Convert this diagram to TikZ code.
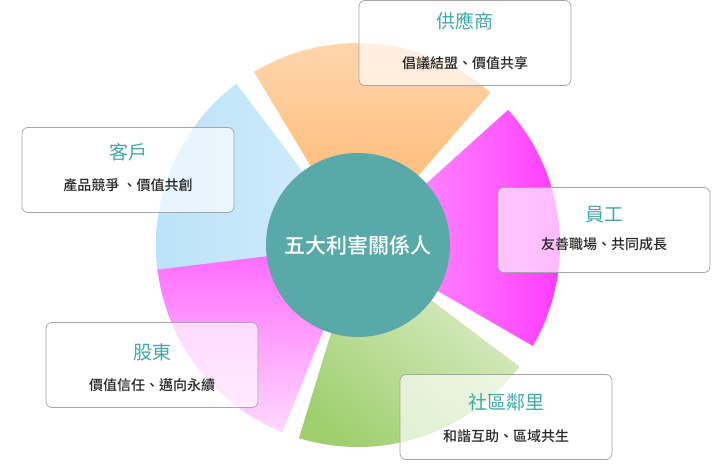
\documentclass[tikz,border=0pt]{standalone}
\usepackage{fontspec}
\newfontfamily\cjk{Noto Sans CJK TC}
\newfontfamily\cjkmed{Noto Sans CJK TC Medium}
\definecolor{tealc}{HTML}{5AA9A9}
\definecolor{titlec}{HTML}{3DAAA8}
\definecolor{skyc}{HTML}{A9DBF7}
\definecolor{leafc}{HTML}{9FCF6E}
\tikzset{
  infobox/.style={draw=gray!70, line width=0.8pt, rounded corners=6pt, fill=white, fill opacity=0.65, text opacity=1, minimum width=212pt, minimum height=85pt},
  boxtitle/.style={text=titlec, font=\cjk\fontsize{19}{19}\selectfont},
  boxtext/.style={font=\cjkmed\fontsize{14}{14}\selectfont, text=black!85}
}
\begin{document}
\begin{tikzpicture}[x=1pt,y=1pt]
\useasboundingbox (0,0) rectangle (715,465);
% wheel
\begin{scope}
\clip (358,220) circle (202);
\shade[top color=orange!30!white, bottom color=orange!60!white] (358,220) -- ++(49:202) arc (49:121:202) -- cycle;
\shade[left color=magenta!35!white, right color=magenta!80!white] (358,220) -- ++(-30:202) arc (-30:42:202) -- cycle;
\shade[top color=leafc!35!white, bottom color=leafc, shading angle=-40] (358,220) -- ++(-107:202) arc (-107:-37:202) -- cycle;
\shade[top color=magenta!60!white, bottom color=magenta!15!white] (358,220) -- ++(-174:202) arc (-174:-112:202) -- cycle;
\shade[left color=skyc!80!white, right color=skyc!50!white] (358,220) -- ++(127:202) arc (127:187:202) -- cycle;
\end{scope}
\node[circle, fill=tealc, minimum size=184pt, text=white, font=\cjkmed\fontsize{21}{21}\selectfont] (hub) at (358,220) {五大利害關係人};
% boxes
\node[infobox] (supplier) at (465,422) {};
\node[boxtitle] at (465,444) {供應商};
\node[boxtext] at (465,402) {倡議結盟、價值共享};
\node[infobox] (client) at (128,295) {};
\node[boxtitle] at (128,313) {客戶};
\node[boxtext] at (128,280) {產品競爭 、價值共創};
\node[infobox] (staff) at (604,235) {};
\node[boxtitle] at (604,250) {員工};
\node[boxtext] at (604,221) {友善職場、共同成長};
\node[infobox] (holder) at (152,100) {};
\node[boxtitle] at (152,113) {股東};
\node[boxtext] at (152,80) {價值信任、邁向永續};
\node[infobox] (community) at (506,48) {};
\node[boxtitle] at (506,63) {社區鄰里};
\node[boxtext] at (506,29) {和諧互助、區域共生};
\end{tikzpicture}
\end{document}
